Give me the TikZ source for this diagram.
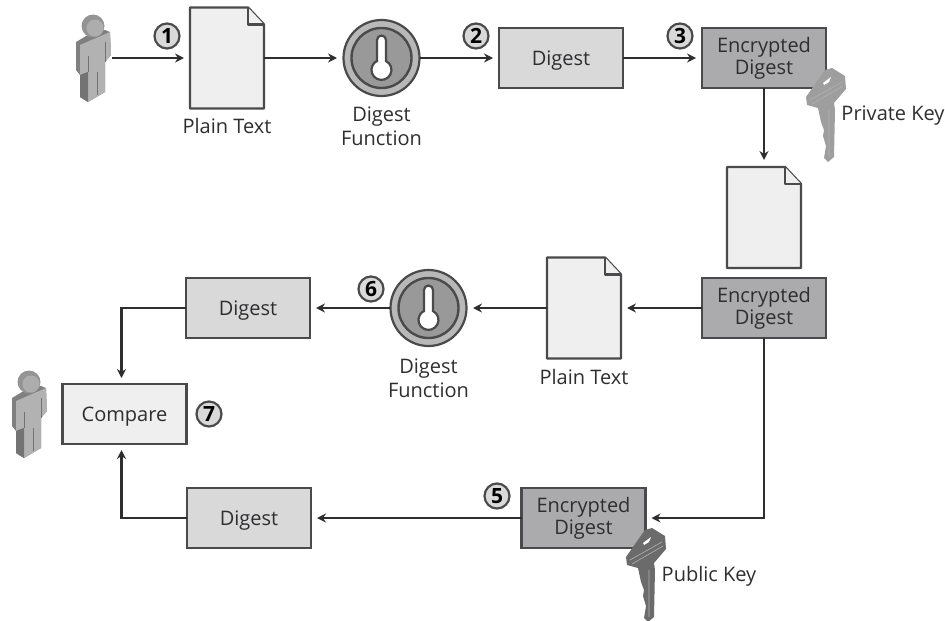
\documentclass[tikz,border=0pt]{standalone}
\usepackage{fontspec}
\setmainfont{Open Sans}
\usepackage{tikz}
\usetikzlibrary{arrows.meta,positioning}
\definecolor{edgegray}{HTML}{4A4A4C}
\definecolor{inkgray}{HTML}{2E2E30}
\definecolor{pagefill}{HTML}{EFEFF0}
\definecolor{digestfill}{HTML}{D9D9DA}
\definecolor{cryptfill}{HTML}{ABABAE}
\tikzset{
  bx/.style={rectangle, draw=edgegray, line width=2.4pt, outer sep=0pt, minimum width=124pt,
    minimum height=60pt, align=center, text=inkgray, font=\fontsize{20}{23}\selectfont},
  digestbox/.style={bx, fill=digestfill, text depth=0pt},
  cryptbox/.style={bx, fill=cryptfill},
  comparebox/.style={bx, fill=pagefill, text depth=0pt},
  slot/.style={rectangle, outer sep=0pt, inner sep=0pt},
  pagenode/.style={slot, minimum width=74pt, minimum height=101pt},
  fnnode/.style={circle, outer sep=0pt, inner sep=0pt, minimum size=77pt},
  personnode/.style={slot, minimum width=36pt, minimum height=86pt},
  caption/.style={align=center, text=inkgray, inner sep=0pt, font=\fontsize{20}{24}\selectfont},
  stepnum/.style={circle, draw=edgegray, fill=digestfill, line width=2.2pt, minimum size=25pt,
    inner sep=0pt, text=black, font=\fontsize{21}{21}\selectfont\bfseries},
  flow/.style={-{Stealth[length=9pt,width=9pt]}, line width=2.4pt, draw=inkgray, shorten >=6pt},
  pagepic/.pic={
    \draw[draw=edgegray, fill=pagefill, line width=2.4pt, line join=round]
      (-37,-50.5) -- (21,-50.5) -- (37,-33.5) -- (37,50.5) -- (-37,50.5) -- cycle;
    \draw[draw=edgegray, fill=pagefill, line width=2.4pt, line join=round]
      (21,-50.5) -- (21,-33.5) -- (37,-33.5);
  },
  fnpic/.pic={
    \draw[draw=edgegray, fill=black!28, line width=2.2pt] (0,0) circle (38);
    \draw[draw=edgegray, fill=black!40, line width=2.4pt] (0,0) circle (30);
    \draw[draw=edgegray, fill=white, line width=2.2pt]
      (-4.5,3) -- (-4.5,-18) arc (180:0:4.5 and -4.5) -- (4.5,3)
      arc (-63:243:10) -- cycle;
  },
  personpic/.pic={
    \begin{scope}[shift={(-24,-48)}]
      \fill[black!50] (6,32) -- (21,23) -- (35,20) -- (40,22) -- (41,45) -- (35,52) -- (35,82)
        -- (18,92) -- (10,87) -- (10,65) -- (6,60) -- cycle;
      \fill[black!30] (10,35) -- (40,22) -- (41,45) -- (35,52) -- (35,82) -- (18,92) -- (18,62)
        -- (10,65) -- cycle;
      \fill[black!55] (10,65) -- (18,62) -- (18,92) -- (10,87) -- cycle;
      \draw[black!55, line width=0.8pt] (18,46) -- (18,62) (35,32) -- (35,52) (27,62) -- (27,85);
      \fill[black!42] (23,16) circle (11.5);
      \fill[black!32] (25,18) circle (8.5);
    \end{scope}
  },
  keypic/.pic={
    \fill[pic actions] (32,8) -- (45,16) -- (46,29) -- (34,43) -- (35,50) -- (34,97)
      -- (28,102) -- (24,98) -- (26,86) -- (23,76) -- (24,70) -- (21,62) -- (18,48) -- (7,45)
      -- (6,37) -- (20,17) -- (25,10) -- cycle;
    \fill[white] (23,23) -- (31,17) -- (29,22) -- (24,25) -- cycle;
    \draw[white!70!black, line width=0.6pt] (10,40) -- (42,22) (12,44) -- (43,26) (29,50) -- (29,97);
  },
}

\begin{document}
\begin{tikzpicture}[x=1pt, y=-1pt]
  \useasboundingbox (0,0) rectangle (945,621);
  % top row
  \node[personnode] (sender) at (94,58) {};
  \node[pagenode, right=78pt of sender] (plain) {};
  \node[fnnode, right=79pt of plain] (fn) {};
  \node[digestbox, right=79pt of fn] (digest) {Digest};
  \node[cryptbox, right=79pt of digest] (crypt) {Encrypted\\[-1pt]Digest};
  \node[caption, below=10pt of plain] (plaincap) {Plain Text};
  \node[caption, below=10pt of fn] (fncap) {Digest\\Function};
  \node[caption, anchor=center] (privcap) at (893,116) {Private Key};
  % middle row
  \node[pagenode, below=78pt of crypt, minimum height=103pt] (page) {};
  \node[cryptbox, below=9pt of page] (recv) {Encrypted\\[-1pt]Digest};
  \node[pagenode, left=81pt of recv] (plainb) {};
  \node[fnnode, left=80pt of plainb] (fnb) {};
  \node[digestbox, left=80pt of fnb] (digestb) {Digest};
  \node[caption, below=11pt of plainb] (plainbcap) {Plain Text};
  \node[caption, below=12pt of fnb] (fnbcap) {Digest\\Function};
  % bottom rows
  \node[comparebox] (compare) at (124.5,414) {Compare};
  \node[personnode] (receiver) at (30,414) {};
  \node[digestbox] (digestc) at (249,518) {Digest};
  \node[cryptbox] (cryptc) at (583.5,518) {Encrypted\\[-1pt]Digest};
  \node[caption, anchor=center] (pubcap) at (709,576) {Public Key};
  % step marks
  \node[stepnum] (s1) at (167,36) {1};
  \node[stepnum] (s2) at (476,36) {2};
  \node[stepnum] (s3) at (680,36) {3};
  \node[stepnum] (s5) at (497,496) {5};
  \node[stepnum] (s6) at (371,289) {6};
  \node[stepnum] (s7) at (209,414) {7};
  % icons
  \pic at (sender) {personpic};
  \pic at (receiver) {personpic};
  \pic at (plain) {pagepic};
  \pic at (page) {pagepic};
  \pic at (plainb) {pagepic};
  \pic at (fn) {fnpic};
  \pic at (fnb) {fnpic};
  \pic[fill=black!38] at (800,60) {keypic};
  \pic[fill=black!58] at (620,520) {keypic};
  % connectors
  \draw[flow] (sender) -- (plain);
  \draw[flow] (plain) -- (fn);
  \draw[flow] (fn) -- (digest);
  \draw[flow] (digest) -- (crypt);
  \draw[flow] (crypt) -- (page);
  \draw[flow] (recv) -- (plainb);
  \draw[flow] (plainb) -- (fnb);
  \draw[flow] (fnb) -- (digestb);
  \draw[flow] (digestb.west) -| ([xshift=-3pt]compare.north);
  \draw[flow] (digestc.west) -| ([xshift=-3pt]compare.south);
  \draw[flow] (cryptc) -- (digestc);
  \draw[flow] (recv.south) |- (cryptc.east);
\end{tikzpicture}
\end{document}
